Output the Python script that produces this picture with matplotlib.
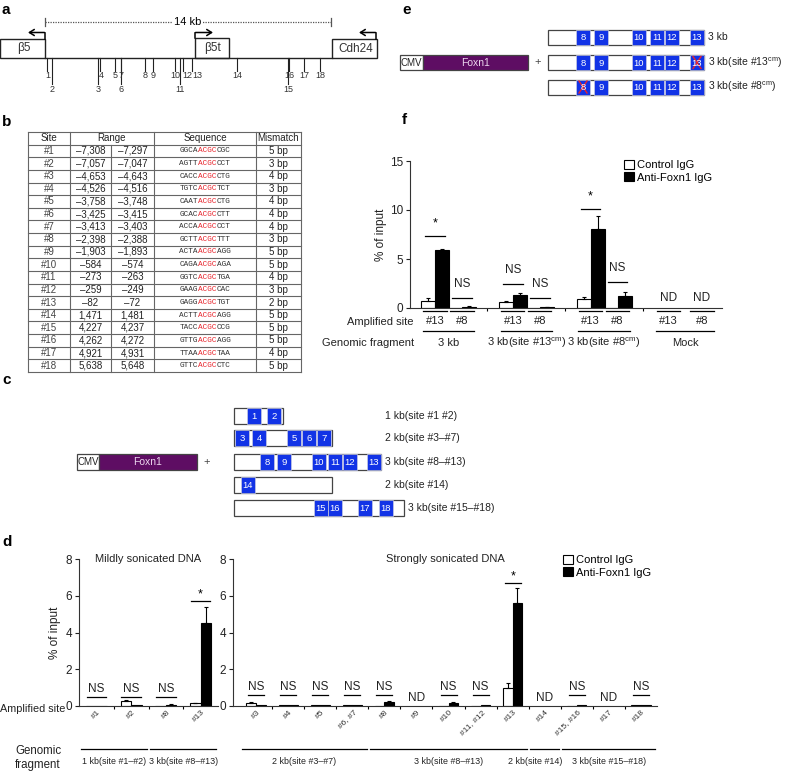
import numpy as np
import matplotlib.pyplot as plt
from matplotlib.patches import Rectangle
from matplotlib.transforms import ScaledTranslation

plt.rcParams['font.family'] = ['Liberation Sans', 'DejaVu Sans']
plt.rcParams['mathtext.fontset'] = 'custom'
plt.rcParams['mathtext.rm'] = 'Liberation Sans'

W, H, DPI = 788, 774, 100
INK = '#222222'
BLUE = '#1233e6'
PURPLE = '#5e0d63'
RED = '#e8242c'

# ─── Data: table (panel b) ───────────────────────────────────────────────────
sites = list(range(1, 19))
range_start = [-7308, -7057, -4653, -4526, -3758, -3425, -3413, -2398, -1903,
               -584, -273, -259, -82, 1471, 4227, 4262, 4921, 5638]
range_end = [-7297, -7047, -4643, -4516, -3748, -3415, -3403, -2388, -1893,
             -574, -263, -249, -72, 1481, 4237, 4272, 4931, 5648]
seq_left = ['GGCA', 'AGTT', 'CACC', 'TGTC', 'CAAT', 'GCAC', 'ACCA', 'GCTT', 'ACTA',
            'CAGA', 'GGTC', 'GAAG', 'GAGG', 'ACTT', 'TACC', 'GTTG', 'TTAA', 'GTTC']
seq_core = 'ACGC'
seq_right = ['CGC', 'CCT', 'CTG', 'TCT', 'CTG', 'CTT', 'CCT', 'TTT', 'AGG',
             'AGA', 'TGA', 'CAC', 'TGT', 'AGG', 'CCG', 'AGG', 'TAA', 'CTC']
mismatch = [5, 3, 4, 3, 4, 4, 4, 3, 5, 5, 4, 3, 2, 5, 5, 5, 4, 5]
long_tick_sites = [2, 3, 6, 11, 15]

# ─── Data: panel d (mildly sonicated) ────────────────────────────────────────
d1_sites = ['#1', '#2', '#8', '#13']
d1_ctrl = [0.0, 0.25, 0.02, 0.15]
d1_ctrl_err = [0.0, 0.08, 0.0, 0.04]
d1_anti = [0.02, 0.03, 0.07, 4.5]
d1_anti_err = [0.0, 0.0, 0.04, 0.9]
d1_sig = ['NS', 'NS', 'NS', '*']
d1_sig_y = [0.5, 0.5, 0.5, 5.7]
d1_frag = ['1 kb(site #1\u2013#2)', '3 kb(site #8\u2013#13)']
d1_frag_groups = [(0, 1), (2, 3)]

# ─── Data: panel d (strongly sonicated) ──────────────────────────────────────
nan = np.nan
d2_sites = ['#3', '#4', '#5', '#6, #7', '#8', '#9', '#10', '#11, #12', '#13',
            '#14', '#15, #16', '#17', '#18']
d2_ctrl = [0.15, 0.05, 0.03, 0.03, 0.02, nan, 0.02, 0.02, 1.0, nan, 0.02, nan, 0.03]
d2_ctrl_err = [0.05, 0.0, 0.0, 0.0, 0.0, nan, 0.0, 0.0, 0.27, nan, 0.0, nan, 0.0]
d2_anti = [0.03, 0.03, 0.05, 0.05, 0.2, nan, 0.15, 0.05, 5.6, nan, 0.03, nan, 0.06]
d2_anti_err = [0.0, 0.0, 0.0, 0.0, 0.05, nan, 0.05, 0.0, 0.8, nan, 0.0, nan, 0.0]
d2_sig = ['NS', 'NS', 'NS', 'NS', 'NS', 'ND', 'NS', 'NS', '*', 'ND', 'NS', 'ND', 'NS']
d2_sig_y = [0.6, 0.6, 0.6, 0.6, 0.6, 0.0, 0.6, 0.6, 6.7, 0.0, 0.6, 0.0, 0.6]
d2_frag = ['2 kb(site #3\u2013#7)', '3 kb(site #8\u2013#13)', '2 kb(site #14)',
           '3 kb(site #15\u2013#18)']
d2_frag_groups = [(0, 3), (4, 8), (9, 9), (10, 12)]

# ─── Data: panel f ───────────────────────────────────────────────────────────
f_frag = ['3 kb', '3 kb(site #13$^{\\rm cm}$)', '3 kb(site #8$^{\\rm cm}$)', 'Mock']
f_sites = ['#13', '#8']
f_ctrl = [0.7, 0.02, 0.65, 0.02, 0.9, 0.02, nan, nan]
f_ctrl_err = [0.28, 0.0, 0.05, 0.0, 0.22, 0.0, nan, nan]
f_anti = [5.95, 0.15, 1.3, 0.08, 8.1, 1.2, nan, nan]
f_anti_err = [0.05, 0.03, 0.25, 0.02, 1.3, 0.4, nan, nan]
f_sig = ['*', 'NS', 'NS', 'NS', '*', 'NS', 'ND', 'ND']
f_sig_y = [7.35, 1.0, 2.5, 1.0, 10.1, 2.7, 0.0, 0.0]

series_labels = ['Control IgG', 'Anti-Foxn1 IgG']

# ─── Figure + overlay axes in pixel coordinates ──────────────────────────────
fig = plt.figure(figsize=(W / DPI, H / DPI), dpi=DPI)
ov = fig.add_axes([0, 0, 1, 1])
ov.set_xlim(0, W)
ov.set_ylim(H, 0)
ov.axis('off')


def px_axes(x0, y0, x1, y1):
    return fig.add_axes([x0 / W, 1 - y1 / H, (x1 - x0) / W, (y1 - y0) / H])


def rect(x0, y0, x1, y1, **kw):
    ov.add_patch(Rectangle((x0, y0), x1 - x0, y1 - y0, **kw))


for lab, (x, y) in zip('abcdef', [(2, 10), (2, 122), (2, 380), (2, 542), (402, 10), (402, 120)]):
    ov.text(x, y, lab, fontsize=11, fontweight='bold', ha='left', va='center', color='black')

# ─── Panel a: locus map ──────────────────────────────────────────────────────
# the map is schematic, not to scale: a piecewise-linear bp -> px scale
map_bp = [-7308, -4653, -3413, -2398, -1903, -584, -273, -259, -82, 1471, 4227, 5638]
map_px = [47, 98, 121, 145, 153, 175, 180, 183, 192, 237, 288, 320]
label_nudge = {12: 4, 13: 5}
BASE_Y = 58


def site_x(p):
    return float(np.interp(p, map_bp, map_px))


ov.plot([45, 332], [BASE_Y, BASE_Y], color=INK, lw=1)
ov.plot([45, 331], [22, 22], color='#555', lw=0.9, ls=(0, (1, 1)))
for xe in (45, 331):
    ov.plot([xe, xe], [18, 26], color='#555', lw=0.9)
ov.text(188, 22, '14 kb', fontsize=8, ha='center', va='center',
        bbox=dict(fc='white', ec='none', pad=1))

genes = [('\u03b25', 0, 45, 39), ('\u03b25t', 195, 229, 38), ('Cdh24', 332, 377, 39)]
for name, x0, x1, y0 in genes:
    rect(x0, y0, x1, BASE_Y, fc='white', ec=INK, lw=1)
    ov.text((x0 + x1) / 2 + 1, (y0 + BASE_Y) / 2, name, fontsize=8.5,
            ha='center', va='center', color='#333')
# transcription arrows (start x, box top, arrow tip x)
for xs, y0, xe in [(45, 39, 28), (195, 38, 213), (376, 39, 359)]:
    ov.plot([xs, xs], [y0, 32.5], color='black', lw=1.1)
    ov.annotate('', xy=(xe, 32.5), xytext=(xs - 0.5 if xe < xs else xs + 0.5, 32.5),
                arrowprops=dict(arrowstyle='->,head_length=0.35,head_width=0.22',
                                color='black', lw=1.1, shrinkA=0, shrinkB=0))

for s, p0, p1 in zip(sites, range_start, range_end):
    x = site_x(p0)
    is_long = s in long_tick_sites
    ov.plot([x, x], [BASE_Y, 84 if is_long else 71], color=INK, lw=0.8)
    ov.text(x + label_nudge.get(s, 0.5), 89 if is_long else 76, str(s), fontsize=6.5,
            ha='center', va='center', color='#333')

# ─── Panel b: table ──────────────────────────────────────────────────────────
col_x = [28, 70, 111, 154, 256, 301]
top, row_h = 132, 12.63
n_rows = len(sites) + 1
bottom = top + n_rows * row_h
for i in range(n_rows + 1):
    ov.plot([col_x[0], col_x[-1]], [top + i * row_h] * 2, color='#666', lw=0.8)
for j, cx in enumerate(col_x):
    y0 = top + row_h if j == 2 else top
    ov.plot([cx, cx], [y0, bottom], color='#666', lw=0.8)

tfs = 7
yc = top + row_h / 2
ov.text((col_x[0] + col_x[1]) / 2, yc, 'Site', fontsize=tfs, ha='center', va='center', color=INK)
ov.text((col_x[1] + col_x[3]) / 2, yc, 'Range', fontsize=tfs, ha='center', va='center', color=INK)
ov.text((col_x[3] + col_x[4]) / 2, yc, 'Sequence', fontsize=tfs, ha='center', va='center', color=INK)
ov.text((col_x[4] + col_x[5]) / 2, yc, 'Mismatch', fontsize=tfs, ha='center', va='center', color=INK)

sfs = 5.6
cw = 0.6 * sfs * DPI / 72
for i, s in enumerate(sites):
    yc = top + (i + 1.5) * row_h
    ov.text((col_x[0] + col_x[1]) / 2, yc, f'#{s}', fontsize=tfs, ha='center', va='center', color='#444')
    ov.text((col_x[1] + col_x[2]) / 2, yc, f'{range_start[i]:,}'.replace('-', '\u2013'),
            fontsize=tfs, ha='center', va='center', color=INK)
    ov.text((col_x[2] + col_x[3]) / 2, yc, f'{range_end[i]:,}'.replace('-', '\u2013'),
            fontsize=tfs, ha='center', va='center', color=INK)
    x = (col_x[3] + col_x[4]) / 2 - 5.5 * cw
    for part, col in [(seq_left[i], '#333'), (seq_core, RED), (seq_right[i], '#333')]:
        ov.text(x, yc, part, fontsize=sfs, family='Liberation Mono', ha='left', va='center', color=col)
        x += len(part) * cw
    ov.text((col_x[4] + col_x[5]) / 2, yc, f'{mismatch[i]} bp', fontsize=tfs, ha='center',
            va='center', color=INK)


# ─── Panels c and e: constructs ──────────────────────────────────────────────
def vector(x0, xs, x1, yc, h):
    rect(x0, yc - h / 2, xs, yc + h / 2, fc='white', ec='#444', lw=0.9)
    rect(xs, yc - h / 2, x1, yc + h / 2, fc=PURPLE, ec='#444', lw=0.9)
    ov.text((x0 + xs) / 2, yc, 'CMV', fontsize=7, ha='center', va='center', color=INK)
    ov.text((xs + x1) / 2, yc, 'Foxn1', fontsize=7.5, ha='center', va='center', color='#ecd6ee')
    ov.text(x1 + 10, yc, '+', fontsize=8, ha='center', va='center', color='#444')


def construct(x0, yc, length, blocks, h, label, label_x, mutated=None):
    rect(x0, yc - h / 2, x0 + length, yc + h / 2, fc='white', ec='#444', lw=0.9)
    for off, name in blocks:
        rect(x0 + off, yc - h / 2, x0 + off + 14, yc + h / 2, fc=BLUE, ec='#c9cbe0', lw=0.5)
        ov.text(x0 + off + 7, yc + 0.5, name, fontsize=6.8, ha='center', va='center', color='white')
        if name == mutated:
            cx = x0 + off + 7
            ov.plot([cx - 4, cx + 4], [yc - 6, yc + 6], color=RED, lw=1)
            ov.plot([cx + 4, cx - 4], [yc - 6, yc + 6], color=RED, lw=1)
    ov.text(max(label_x, x0 + length + 4), yc, label, fontsize=7.5, ha='left', va='center', color=INK)


vector(77, 99, 197, 462, 16)
c_rows = [
    ('1 kb(site #1 #2)', 416, 49, [(13, '1'), (33, '2')]),
    ('2 kb(site #3\u2013#7)', 438, 98, [(1, '3'), (18, '4'), (53, '5'), (68, '6'), (83, '7')]),
    ('3 kb(site #8\u2013#13)', 462, 147, [(26, '8'), (43, '9'), (78, '10'), (94, '11'),
                                          (109, '12'), (133, '13')]),
    ('2 kb(site #14)', 485, 98, [(7, '14')]),
    ('3 kb(site #15\u2013#18)', 508, 170, [(80, '15'), (94, '16'), (124, '17'), (145, '18')]),
]
for label, yc, length, blocks in c_rows:
    construct(234, yc, length, blocks, 16, label, 385)

vector(400, 423, 528, 62.5, 15)
e_blocks = [(28, '8'), (46, '9'), (84, '10'), (102, '11'), (117, '12'), (142, '13')]
e_rows = [('3 kb', 37.5, None), ('3 kb(site #13$^{\\rm cm}$)', 62.5, '13'),
          ('3 kb(site #8$^{\\rm cm}$)', 87, '8')]
for label, yc, mut in e_rows:
    construct(548, yc, 156, e_blocks, 15, label, 0, mut)


# ─── Bar helpers ─────────────────────────────────────────────────────────────
def style_axes(ax, ymax, yticks):
    for side in ('top', 'right'):
        ax.spines[side].set_visible(False)
    for side in ('left', 'bottom'):
        ax.spines[side].set_linewidth(0.8)
        ax.spines[side].set_color('#333')
    ax.set_ylim(0, ymax)
    ax.set_yticks(yticks)
    ax.tick_params(axis='y', direction='out', length=3, width=0.8, labelsize=8.5, pad=2, colors='#222')
    ax.patch.set_alpha(0)


def draw_bars(ax, pos, ctrl, ctrl_err, anti, anti_err, width):
    pos = np.asarray(pos, float)
    ctrl, anti = np.asarray(ctrl), np.asarray(anti)
    ok = ~np.isnan(ctrl)
    h1 = ax.bar(pos[ok] - width / 2, ctrl[ok], width, color='white', edgecolor='black', lw=0.8)
    h2 = ax.bar(pos[ok] + width / 2, anti[ok], width, color='black', edgecolor='black', lw=0.8)
    for off, vals, errs in [(-width / 2, ctrl, ctrl_err), (width / 2, anti, anti_err)]:
        errs = np.asarray(errs)
        m = ok & (errs > 0)
        ax.errorbar(pos[m] + off, vals[m], yerr=[np.zeros(m.sum()), errs[m]], fmt='none',
                    ecolor='black', elinewidth=0.8, capsize=1.5, capthick=0.8)
    return h1, h2


def draw_sig(ax, pos, sig, sig_y, half, fs=8.5, nd_y=0.45, nd_fs=8.5, text_off=0.42):
    ymax = ax.get_ylim()[1]
    for x, s, y in zip(pos, sig, sig_y):
        if s == 'ND':
            ax.text(x, nd_y, 'ND', fontsize=nd_fs, ha='center', va='center', color=INK)
            continue
        ax.plot([x - half, x + half], [y, y], color='black', lw=0.9)
        if s == '*':
            ax.text(x, y + text_off * ymax / 8 * 0.9, '*', fontsize=9, ha='center', va='center')
        else:
            ax.text(x, y + text_off * ymax / 8, s, fontsize=fs, ha='center', va='center', color=INK)


def rotated_labels(ax, pos, labels):
    ax.set_xticks(pos)
    ax.set_xticklabels(labels, rotation=45, ha='right', fontsize=6, color='#333')
    ax.tick_params(axis='x', which='major', length=0, pad=2)
    for t in ax.get_xticklabels():
        t.set_transform(t.get_transform() + ScaledTranslation(4 / 72, 0, fig.dpi_scale_trans))
    ax.set_xticks(np.arange(len(pos) - 1) + 0.5, minor=True)
    ax.tick_params(axis='x', which='minor', length=2.5, width=0.8, direction='out')


def frag_lines(ax, pos, groups, labels, ha_list, y_line=-0.29, y_text=-0.38, half=0.45):
    tr = ax.get_xaxis_transform()
    for (g0, g1), lab, ha in zip(groups, labels, ha_list):
        x0, x1 = pos[g0] - half, pos[g1] + half
        ax.plot([x0, x1], [y_line, y_line], color='black', lw=0.9, transform=tr, clip_on=False)
        xt = {'center': (x0 + x1) / 2, 'right': x1 + 0.1}[ha]
        ax.text(xt, y_text, lab, fontsize=6.4, ha=ha, va='center', transform=tr, color=INK)


# ─── Panel d ─────────────────────────────────────────────────────────────────
ax1 = px_axes(79, 559, 218, 706)
p1 = np.arange(len(d1_sites))
draw_bars(ax1, p1, d1_ctrl, d1_ctrl_err, d1_anti, d1_anti_err, 0.3)
style_axes(ax1, 8, [0, 2, 4, 6, 8])
ax1.set_xlim(-0.5, 3.5)
rotated_labels(ax1, p1, d1_sites)
draw_sig(ax1, p1, d1_sig, d1_sig_y, 0.28)
ax1.set_ylabel('% of input', fontsize=8.5, labelpad=3, color=INK)
ax1.text(0.5, 1.0, 'Mildly sonicated DNA', transform=ax1.transAxes, ha='center', va='center',
         fontsize=8, color=INK)
frag_lines(ax1, p1, d1_frag_groups, d1_frag, ['center', 'center'])

ax2 = px_axes(233, 559, 657, 706)
p2 = np.arange(len(d2_sites))
hc, ha_ = draw_bars(ax2, p2, d2_ctrl, d2_ctrl_err, d2_anti, d2_anti_err, 0.3)
style_axes(ax2, 8, [0, 2, 4, 6, 8])
ax2.set_xlim(-0.72, 12.5)
rotated_labels(ax2, p2, d2_sites)
draw_sig(ax2, p2, d2_sig, d2_sig_y, 0.25)
ax2.text(0.5, 1.0, 'Strongly sonicated DNA', transform=ax2.transAxes, ha='center', va='center',
         fontsize=8, color=INK)
frag_lines(ax2, p2, d2_frag_groups, d2_frag, ['center', 'center', 'right', 'center'])
ax2.legend([hc, ha_], series_labels, loc='upper left', bbox_to_anchor=(563 / W, 1 - 555 / H),
           bbox_transform=fig.transFigure, frameon=False, fontsize=8, handlelength=0.9,
           handleheight=0.9, handletextpad=0.3, labelspacing=0.15, borderpad=0, borderaxespad=0)

ov.text(0, 709, 'Amplified site', fontsize=7.8, ha='left', va='center', color=INK)
ov.text(38, 758, 'Genomic\nfragment', fontsize=8.3, ha='center', va='center', color=INK,
        linespacing=1.15)

# ─── Panel f ─────────────────────────────────────────────────────────────────
axf = px_axes(410, 161, 722, 308)
site_step = [1, 1, 1, 1.25]
pf = np.array([g * 2.88 + k * site_step[g] for g in range(len(f_frag)) for k in range(len(f_sites))])
hc, ha_ = draw_bars(axf, pf, f_ctrl, f_ctrl_err, f_anti, f_anti_err, 0.52)
style_axes(axf, 15, [0, 5, 10, 15])
axf.set_xlim(-0.93, 10.63)
axf.set_xticks([])
axf.set_xticks([(pf[1] + pf[2]) / 2, (pf[3] + pf[4]) / 2, (pf[5] + pf[6]) / 2], minor=True)
axf.tick_params(axis='x', which='minor', length=2.5, width=0.8, direction='out')
axf.set_ylabel('% of input', fontsize=8.5, labelpad=2, color=INK)
draw_sig(axf, pf, f_sig, f_sig_y, 0.36, nd_y=1.0, text_off=0.75)
axf.legend([hc, ha_], series_labels, loc='upper left', bbox_to_anchor=(624 / W, 1 - 160 / H),
           bbox_transform=fig.transFigure, frameon=False, fontsize=8, handlelength=0.9,
           handleheight=0.9, handletextpad=0.3, labelspacing=0.15, borderpad=0, borderaxespad=0)

trf = axf.get_xaxis_transform()
for i, x in enumerate(pf):
    axf.plot([x - 0.43, x + 0.43], [-0.02, -0.02], color='black', lw=0.9, transform=trf, clip_on=False)
    axf.text(x, -0.088, f_sites[i % 2], fontsize=8, ha='center', va='center', transform=trf, color=INK)
for g, lab in enumerate(f_frag):
    x0, x1 = pf[2 * g] - 0.45, pf[2 * g + 1] + 0.45
    axf.plot([x0, x1], [-0.156, -0.156], color='black', lw=0.9, transform=trf, clip_on=False)
    axf.text((x0 + x1) / 2, -0.238, lab, fontsize=8, ha='center', va='center', transform=trf, color=INK)
ov.text(414, 322, 'Amplified site', fontsize=8, ha='right', va='center', color=INK)
ov.text(414, 343, 'Genomic fragment', fontsize=8, ha='right', va='center', color=INK)

fig.savefig('out.png', dpi=DPI)
